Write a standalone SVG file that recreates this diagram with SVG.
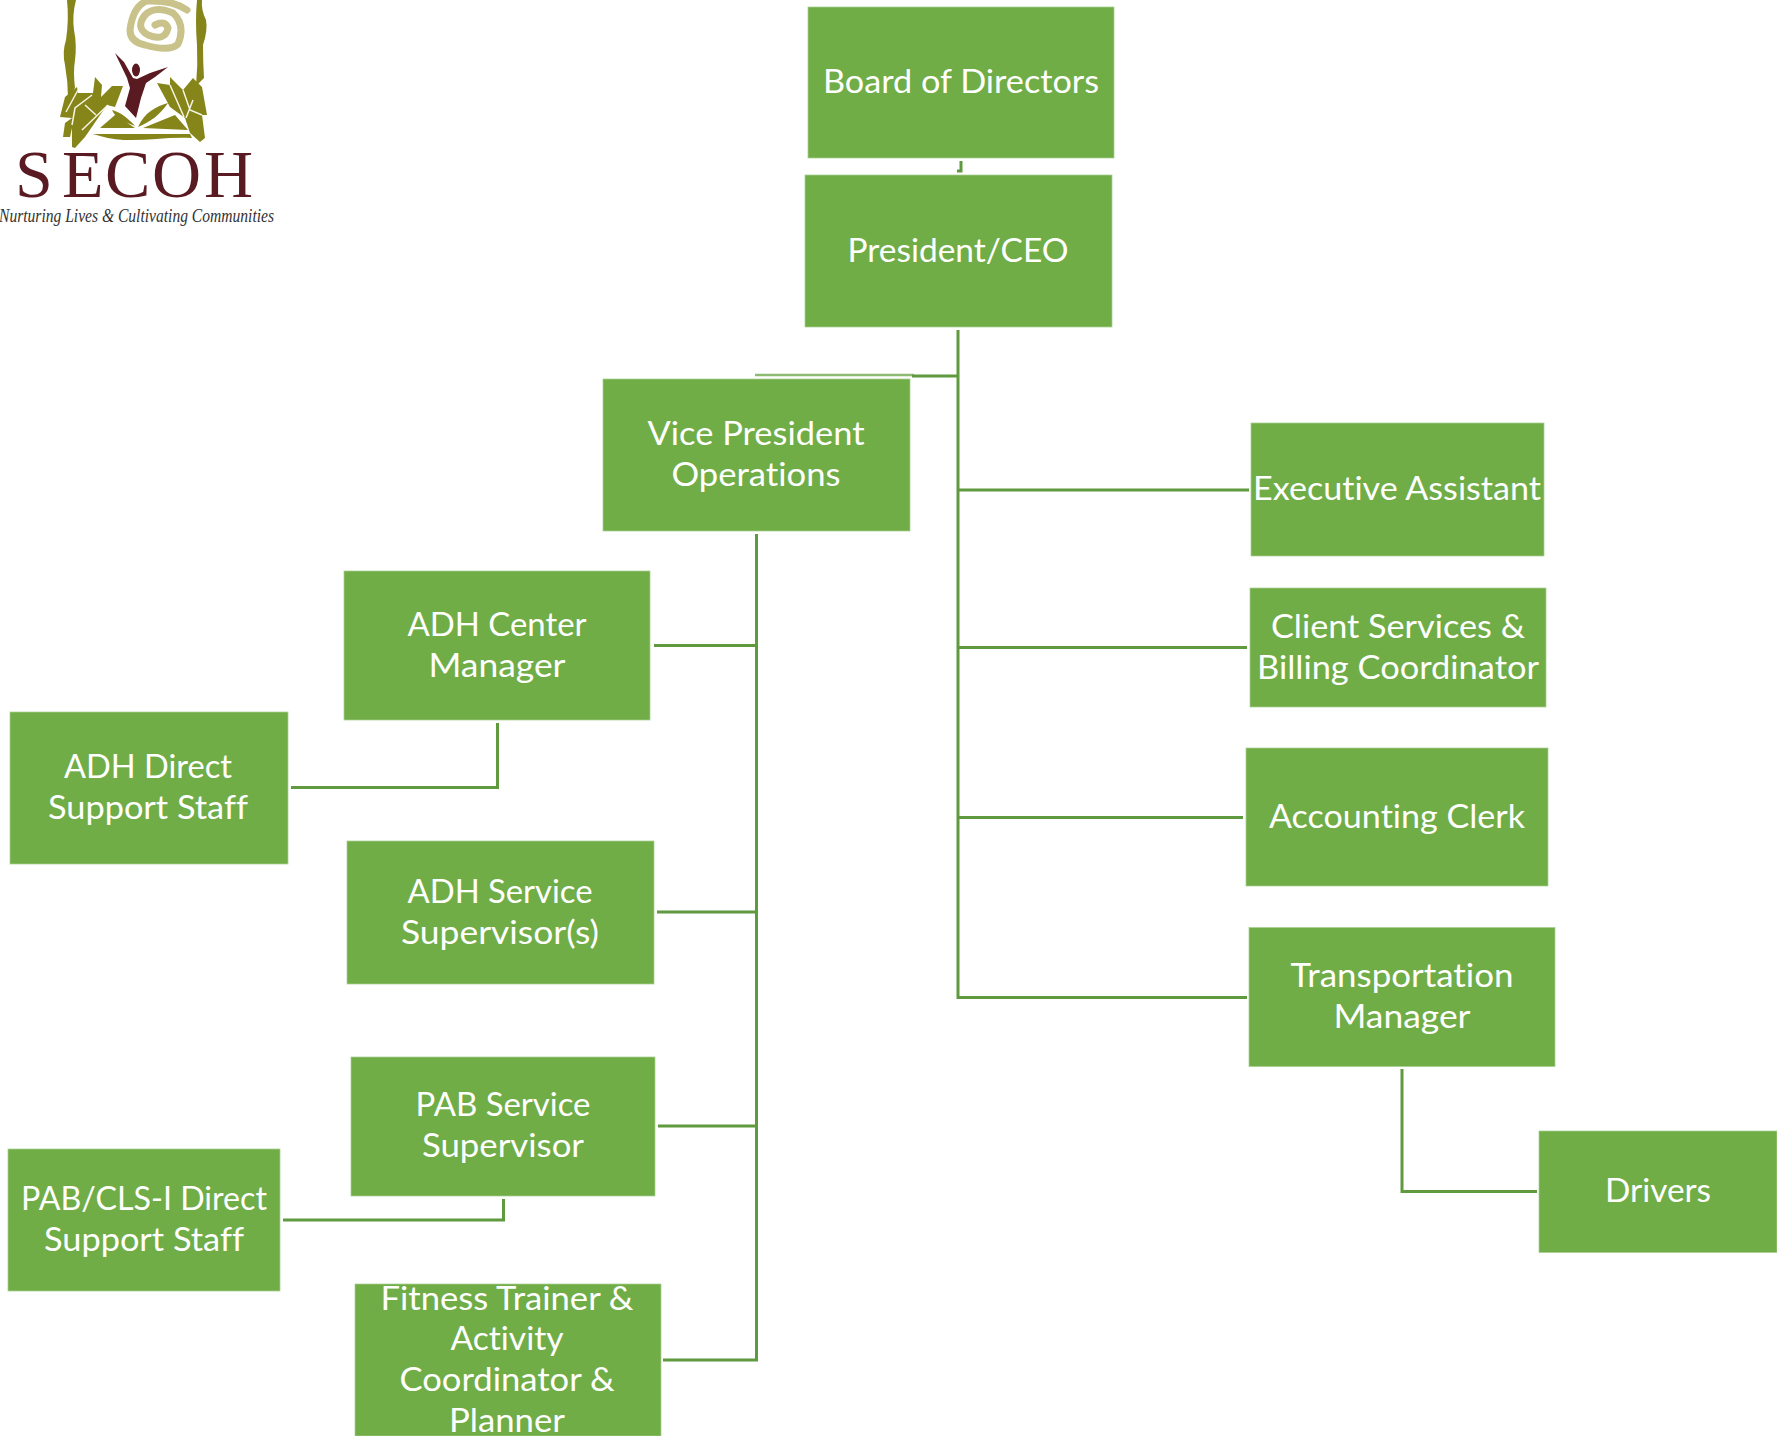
<svg xmlns="http://www.w3.org/2000/svg" width="1777" height="1436" viewBox="0 0 1777 1436">
<style>
.box{fill:#70ad47;stroke:#a8cf92;stroke-width:.75}
.t{font-family:"Lato","Open Sans",sans-serif;font-size:33px;fill:#fff;text-anchor:middle;font-variant-ligatures:none;font-feature-settings:"liga" 0}
.c{fill:none;stroke:#5f9a3e;stroke-width:3}
.o{fill:#86851a}
.m{fill:#5a1a22}
.w{fill:none;stroke:#f6f4e2;stroke-width:1.5}
</style>
<rect width="1777" height="1436" fill="#fff"/>
<g id="logo">
<path class="o" d="M67 0H76Q72 15 74 30Q77 45 75 60Q73 72 75 88L68 98Q68 82 65 65Q62 52 66 40Q69 20 67 0Z"/>
<path class="o" d="M197 0H202Q201 10 206 20Q208 30 203 45Q203 62 204 78L196 86Q198 65 197 45Q195 20 197 0Z"/>
<path d="M187 10Q173 0 147 1Q133 6 130 30Q130 42 145 45Q170 52 178 44Q186 25 173 13Q155 5 145 15Q135 28 148 35Q165 42 168 28Q165 20 155 25" fill="none" stroke="#c9c28a" stroke-width="7" stroke-linejoin="round" stroke-linecap="round"/>
<path class="m" d="M115 53L124 62L133 78L137 79L150 73L168 67L155 77L146 83L141 98L136 118L125 106L130 88L127 78Z"/>
<ellipse class="m" cx="136" cy="70" rx="4" ry="6.5"/>
<path class="o" d="M60 117L65 97L77 87L78 93L93 93L95 77L102 85L101 97L112 86L123 86L115 107L107 105L85 137L75 148L72 147L72 128L70 137L63 137L65 123L72 118Z"/>
<path class="w" d="M66 112L78 90M72 125L75 108L92 95M85 105L96 115M82 130L108 105"/>
<path class="o" d="M100 128L115 115L135 128ZM138 127C145 112 155 107 168 103C160 115 150 122 138 127ZM112 110C120 112 128 118 135 126C125 122 115 118 112 110ZM143 128L175 115L188 130ZM93 134H190L192 138C160 136 130 145 100 136Z"/>
<path class="o" d="M157 83L170 85L170 77L183 90L193 78L202 87L207 115L202 115L205 138L200 142L190 133L185 118L170 107Z"/>
<path class="w" d="M170 85L184 117M193 100L186 118M183 90L190 110L202 115"/>
<text x="15 62 105 152 204" y="197" font-family="'Liberation Serif',serif" font-size="68" fill="#5a1a22">SECOH</text>
<text x="-1" y="222" font-family="'Liberation Serif',serif" font-style="italic" font-size="18" fill="#333" textLength="275" lengthAdjust="spacingAndGlyphs">Nurturing Lives &amp; Cultivating Communities</text>
</g>
<g id="connectors">
<path class="c" d="M961 161V171H957"/>
<path d="M755 375H914" fill="none" stroke="#8dbb72" stroke-width="2.5"/>
<path class="c" d="M958 330V997.500H1247M958 376H912M958 490H1249M958 647.500H1247M958 817.500H1243"/>
<path class="c" d="M756.500 534V1360H663M756.500 645.500H654M756.500 912H657M756.500 1126H658"/>
<path class="c" d="M497.500 723V787.500H291"/>
<path class="c" d="M503.500 1199V1220H283"/>
<path class="c" d="M1402 1069V1191.500H1537"/>
</g>
<g id="board"><rect class="box" x="808" y="7" width="306" height="151"/><text class="t" x="961" y="93" textLength="276" lengthAdjust="spacingAndGlyphs">Board of Directors</text></g>
<g id="president"><rect class="box" x="805" y="175" width="307" height="152"/><text class="t" x="958" y="262" textLength="221" lengthAdjust="spacingAndGlyphs">President/CEO</text></g>
<g id="vp"><rect class="box" x="603" y="379" width="307" height="152"/><text class="t" x="756" y="445" textLength="217" lengthAdjust="spacingAndGlyphs">Vice President</text><text class="t" x="756" y="486" textLength="169" lengthAdjust="spacingAndGlyphs">Operations</text></g>
<g id="adh-center"><rect class="box" x="344" y="571" width="306" height="149"/><text class="t" x="497" y="636" textLength="179" lengthAdjust="spacingAndGlyphs">ADH Center</text><text class="t" x="497" y="677" textLength="137" lengthAdjust="spacingAndGlyphs">Manager</text></g>
<g id="adh-direct"><rect class="box" x="10" y="712" width="278" height="152"/><text class="t" x="148" y="778" textLength="168" lengthAdjust="spacingAndGlyphs">ADH Direct</text><text class="t" x="148" y="819" textLength="200" lengthAdjust="spacingAndGlyphs">Support Staff</text></g>
<g id="adh-service"><rect class="box" x="347" y="841" width="307" height="143"/><text class="t" x="500" y="903" textLength="185" lengthAdjust="spacingAndGlyphs">ADH Service</text><text class="t" x="500" y="944" textLength="198" lengthAdjust="spacingAndGlyphs">Supervisor(s)</text></g>
<g id="pab-service"><rect class="box" x="351" y="1057" width="304" height="139"/><text class="t" x="503" y="1116" textLength="175" lengthAdjust="spacingAndGlyphs">PAB Service</text><text class="t" x="503" y="1157" textLength="162" lengthAdjust="spacingAndGlyphs">Supervisor</text></g>
<g id="pab-cls"><rect class="box" x="8" y="1149" width="272" height="142"/><text class="t" x="144" y="1210" textLength="246" lengthAdjust="spacingAndGlyphs">PAB/CLS-I Direct</text><text class="t" x="144" y="1251" textLength="200" lengthAdjust="spacingAndGlyphs">Support Staff</text></g>
<g id="fitness"><rect class="box" x="355" y="1284" width="306" height="152"/><text class="t" x="507" y="1310" textLength="253" lengthAdjust="spacingAndGlyphs">Fitness Trainer &amp;</text><text class="t" x="507" y="1350" textLength="113" lengthAdjust="spacingAndGlyphs">Activity</text><text class="t" x="507" y="1391" textLength="215" lengthAdjust="spacingAndGlyphs">Coordinator &amp;</text><text class="t" x="507" y="1432" textLength="116" lengthAdjust="spacingAndGlyphs">Planner</text></g>
<g id="exec"><rect class="box" x="1251" y="423" width="293" height="133"/><text class="t" x="1397" y="500" textLength="288" lengthAdjust="spacingAndGlyphs">Executive Assistant</text></g>
<g id="client"><rect class="box" x="1250" y="588" width="296" height="119"/><text class="t" x="1398" y="638" textLength="254" lengthAdjust="spacingAndGlyphs">Client Services &amp;</text><text class="t" x="1398" y="679" textLength="282" lengthAdjust="spacingAndGlyphs">Billing Coordinator</text></g>
<g id="accounting"><rect class="box" x="1246" y="748" width="302" height="138"/><text class="t" x="1397" y="828" textLength="256" lengthAdjust="spacingAndGlyphs">Accounting Clerk</text></g>
<g id="transportation"><rect class="box" x="1249" y="927.500" width="306" height="139"/><text class="t" x="1402" y="987" textLength="223" lengthAdjust="spacingAndGlyphs">Transportation</text><text class="t" x="1402" y="1028" textLength="137" lengthAdjust="spacingAndGlyphs">Manager</text></g>
<g id="drivers"><rect class="box" x="1539" y="1131" width="238" height="121.500"/><text class="t" x="1658" y="1202" textLength="106" lengthAdjust="spacingAndGlyphs">Drivers</text></g>
</svg>
